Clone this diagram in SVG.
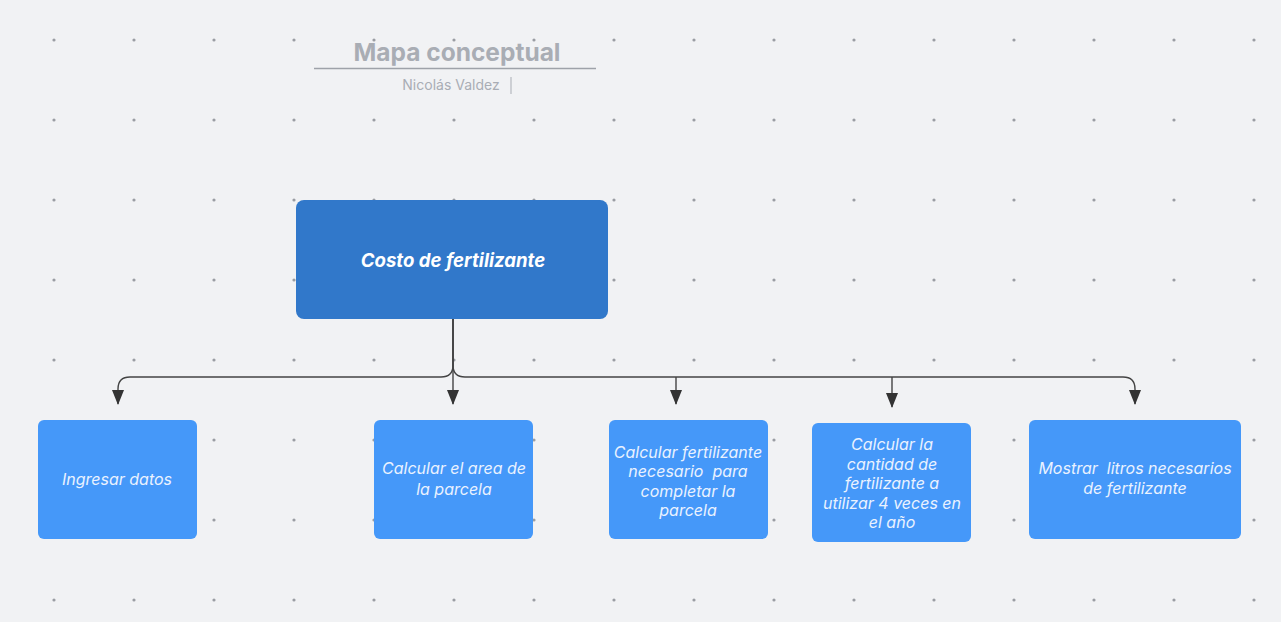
<svg xmlns="http://www.w3.org/2000/svg" width="1281" height="622" viewBox="0 0 1281 622">
<defs>
<pattern id="dots" x="0" y="0" width="80" height="80" patternUnits="userSpaceOnUse">
<circle cx="54" cy="40" r="1.6" fill="#9a9da3"/>
</pattern>
<marker id="ah" markerWidth="15" markerHeight="12" refX="14" refY="6" orient="auto" markerUnits="userSpaceOnUse" viewBox="0 0 15 12">
<path d="M0 0 L15 6 L0 12 Z" fill="#333"/>
</marker>
</defs>
<style>
.node{fill:#4598f9;}
.main{fill:#3178ca;}
.t{font-family:Inter,"Noto Sans",sans-serif;font-style:italic;font-size:16px;fill:#eaf2ff;text-anchor:middle;}
.edge{fill:none;stroke:#444;stroke-width:1.4;}
</style>
<rect width="1281" height="622" fill="#f1f2f4"/>
<rect width="1281" height="622" fill="url(#dots)"/>
<g id="title">
<text x="457" y="61" font-family="Inter,'Noto Sans',sans-serif" font-weight="bold" font-size="24.5" fill="#a9adb4" text-anchor="middle">Mapa conceptual</text>
<line x1="314" y1="68.5" x2="596" y2="68.5" stroke="#9ea2a9" stroke-width="1.5"/>
<text x="451" y="90" font-family="Inter,'Noto Sans',sans-serif" font-size="14" fill="#a9adb4" text-anchor="middle">Nicolás Valdez</text>
<line x1="511" y1="77" x2="511" y2="94" stroke="#a9adb4" stroke-width="1"/>
</g>
<g id="connectors">
<path class="edge" d="M453 319 V365 Q453 377 441 377 H130 Q118 377 118 389 V404" marker-end="url(#ah)"/>
<path class="edge" d="M453 319 V365 Q453 377 465 377 H1123 Q1135 377 1135 389 V404" marker-end="url(#ah)"/>
<path class="edge" d="M453 319 V404" marker-end="url(#ah)"/>
<path class="edge" d="M676 377 V404" marker-end="url(#ah)"/>
<path class="edge" d="M892 377 V407" marker-end="url(#ah)"/>
</g>
<g id="n0">
<rect class="main" x="296" y="200" width="312" height="119" rx="8"/>
<text x="453" y="267" font-family="Inter,'Noto Sans',sans-serif" font-style="italic" font-weight="bold" font-size="18.6" fill="#ffffff" text-anchor="middle">Costo de fertilizante</text>
</g>
<g id="n1">
<rect class="node" x="38" y="420" width="159" height="119" rx="6"/>
<text class="t" x="117" y="485">Ingresar datos</text>
</g>
<g id="n2">
<rect class="node" x="374" y="420" width="159" height="119" rx="6"/>
<text class="t" x="454" y="474">Calcular el area de</text>
<text class="t" x="454" y="495">la parcela</text>
</g>
<g id="n3">
<rect class="node" x="609" y="420" width="159" height="119" rx="6"/>
<text class="t" x="688" y="458">Calcular fertilizante</text>
<text class="t" x="688" y="477" xml:space="preserve">necesario  para</text>
<text class="t" x="688" y="497">completar la</text>
<text class="t" x="688" y="516">parcela</text>
</g>
<g id="n4">
<rect class="node" x="812" y="423" width="159" height="119" rx="6"/>
<text class="t" x="892" y="450">Calcular la</text>
<text class="t" x="892" y="470">cantidad de</text>
<text class="t" x="892" y="489">fertilizante a</text>
<text class="t" x="892" y="509">utilizar 4 veces en</text>
<text class="t" x="892" y="528">el año</text>
</g>
<g id="n5">
<rect class="node" x="1029" y="420" width="212" height="119" rx="6"/>
<text class="t" x="1135" y="474" xml:space="preserve">Mostrar  litros necesarios</text>
<text class="t" x="1135" y="494">de fertilizante</text>
</g>
</svg>
